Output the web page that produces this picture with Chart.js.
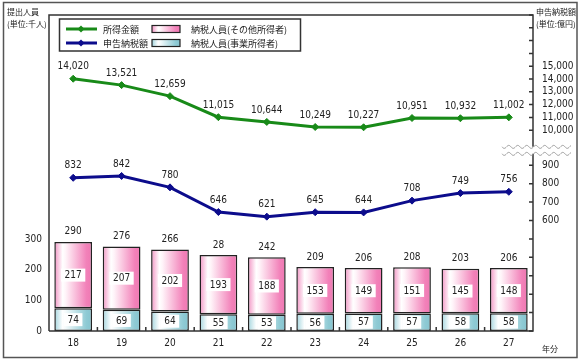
<!DOCTYPE html>
<html><head><meta charset="utf-8">
<script src="https://cdn.jsdelivr.net/npm/chart.js@4/dist/chart.umd.min.js"></script>
<style>html,body{margin:0;padding:0;background:#fff;overflow:hidden}</style>
</head><body>
<canvas id="c" width="581" height="363"></canvas>
<script>
// ---- data ----
const years = ['18','19','20','21','22','23','24','25','26','27'];
const incomeAmount = [14020,13521,12659,11015,10644,10249,10227,10951,10932,11002];   // 所得金額 (億円)
const taxAmount = [832,842,780,646,621,645,644,708,749,756];                           // 申告納税額 (億円)
const businessPeople = [74,69,64,55,53,56,57,57,58,58];                                // 納税人員(事業所得者) (千人)
const otherPeople = [217,207,202,193,188,153,149,151,145,148];                         // 納税人員(その他所得者) (千人)
const totalLabels = ['290','276','266','28','242','209','206','208','203','206'];       // 合計ラベル (as printed)
const peopleTicks = [0,100,200,300];
const peopleLabels = [0,100,200,300];
const incomeTicks = [10000,11000,12000,13000,14000,15000,16000,17000,18000,19000];
const incomeLabels = [10000,11000,12000,13000,14000,15000];
const taxTicks = [0,100,200,300,400,500,600,700,800,900];
const taxLabels = [600,700,800,900];

const NUM_FONT = "'Liberation Sans Narrow','Arial Narrow','DejaVu Sans Condensed','Liberation Sans',sans-serif";
const JP_FONT = "'Noto Sans CJK JP',sans-serif";
const GREEN = '#188a18';
const NAVY = '#0c0c8c';
const TEXT = '#222';
const BAR_PCT = 0.78;
const PINK_STOPS = [[0,'#f293c3'],[0.22,'#ffffff'],[0.3,'#fff4f9'],[0.85,'#f281b9'],[1,'#ef78b2']];
const BLUE_STOPS = [[0,'#a3d5de'],[0.22,'#ffffff'],[0.3,'#f3fafb'],[0.85,'#8ecad4'],[1,'#86c4cf']];

function makeGrad(ctx, x0, x1, stops){
  const g = ctx.createLinearGradient(x0,0,x1,0);
  stops.forEach(s=>g.addColorStop(s[0],s[1]));
  return g;
}
function barGradient(stops){
  return function(c){
    const chart = c.chart, xs = chart.scales && chart.scales.x;
    if(!xs || !chart.chartArea || c.dataIndex === undefined) return stops[stops.length-1][1];
    const cx = xs.getPixelForValue(c.dataIndex);
    const w = (xs.width/years.length)*BAR_PCT;
    return makeGrad(chart.ctx, cx-w/2, cx+w/2, stops);
  };
}
const fmt = v => v.toLocaleString('en-US');

const decor = {
  id:'decor',
  afterDraw(chart){
    const ctx = chart.ctx, a = chart.chartArea;
    const xs = chart.scales.x, yInc = chart.scales.yInc, yTax = chart.scales.yTax;
    ctx.save();
    // outer frame
    ctx.strokeStyle = '#555'; ctx.lineWidth = 1.5;
    ctx.strokeRect(3.5, 2.5, 573.5, 355);

    // plot frame with axis break
    const bMid = (yInc.bottom + yTax.top)/2;
    const bTop = bMid - 3.5, bBot = bMid + 3.5;
    ctx.strokeStyle = '#333'; ctx.lineWidth = 1.5;
    ctx.beginPath();
    ctx.moveTo(a.left, a.bottom); ctx.lineTo(a.left, a.top); ctx.lineTo(a.right, a.top); ctx.lineTo(a.right, bTop);
    ctx.moveTo(a.right, bBot); ctx.lineTo(a.right, a.bottom); ctx.lineTo(a.left, a.bottom);
    ctx.stroke();

    // inward tick marks on right axis
    ctx.beginPath();
    yInc.ticks.forEach(t=>{const y=yInc.getPixelForValue(t.value); ctx.moveTo(a.right-4,y); ctx.lineTo(a.right,y);});
    yTax.ticks.forEach(t=>{const y=yTax.getPixelForValue(t.value); ctx.moveTo(a.right-4,y); ctx.lineTo(a.right,y);});
    // inward tick marks on x axis between categories
    const cw = xs.width/years.length;
    for(let i=1;i<years.length;i++){ const x = a.left + i*cw; ctx.moveTo(x,a.bottom-4); ctx.lineTo(x,a.bottom); }
    ctx.stroke();

    // break waves
    ctx.strokeStyle = '#999'; ctx.lineWidth = 1;
    [bTop, bBot].forEach(y0=>{
      ctx.beginPath();
      for(let x=502;x<=571;x+=0.5){
        const yy = y0 + 1.5*Math.sin((x-502)/9*2*Math.PI);
        if(x===502) ctx.moveTo(x,yy); else ctx.lineTo(x,yy);
      }
      ctx.stroke();
    });

    // line value labels
    ctx.font = `10px ${NUM_FONT}`; ctx.fillStyle = TEXT; ctx.textAlign = 'center'; ctx.textBaseline = 'middle';
    chart.data.datasets.forEach((ds,i)=>{
      if(ds.type !== 'line') return;
      chart.getDatasetMeta(i).data.forEach((el,j)=>{
        ctx.fillText(fmt(ds.data[j]), el.x, el.y-12);
      });
    });
    // bar value labels
    chart.data.datasets.forEach((ds,i)=>{
      if(ds.type === 'line') return;
      chart.getDatasetMeta(i).data.forEach((el,j)=>{
        const cy = (el.y + el.base)/2, txt = String(ds.data[j]);
        const w = ctx.measureText(txt).width + 7;
        ctx.fillStyle = '#fff'; ctx.fillRect(el.x - w/2, cy - 6.5, w, 13);
        ctx.fillStyle = TEXT; ctx.fillText(txt, el.x, cy+0.5);
      });
    });
    // totals above stacked bars
    chart.getDatasetMeta(3).data.forEach((el,j)=>{ ctx.fillText(totalLabels[j], el.x, el.y-10); });

    // axis titles
    ctx.textAlign = 'left'; ctx.font = `8px ${JP_FONT}`; ctx.fillStyle = TEXT;
    ctx.fillText('提出人員', 7, 12);
    ctx.fillText('(単位:千人)', 7, 24);
    ctx.fillText('申告納税額', 536, 12);
    ctx.fillText('(単位:億円)', 536, 24);
    ctx.fillText('年分', 542, 349);

    // legend
    ctx.fillStyle = '#fff'; ctx.fillRect(59.5, 19, 241, 32);
    ctx.strokeStyle = '#333'; ctx.lineWidth = 1.5; ctx.strokeRect(59.5, 19, 241, 32);
    const ds = chart.data.datasets;
    const rows = [[0,3,29],[1,2,43]];
    ctx.font = `9px ${JP_FONT}`; ctx.textBaseline = 'middle';
    rows.forEach(([li,bi,y])=>{
      const L = ds[li];
      ctx.strokeStyle = L.borderColor; ctx.lineWidth = 3;
      ctx.beginPath(); ctx.moveTo(66,y); ctx.lineTo(97,y); ctx.stroke();
      ctx.fillStyle = L.borderColor;
      ctx.beginPath(); ctx.moveTo(81,y-3.5); ctx.lineTo(84.5,y); ctx.lineTo(81,y+3.5); ctx.lineTo(77.5,y); ctx.closePath(); ctx.fill();
      ctx.fillStyle = TEXT; ctx.fillText(L.label, 103, y+0.5);
      const B = ds[bi];
      ctx.fillStyle = makeGrad(ctx, 152, 180, bi===3 ? PINK_STOPS : BLUE_STOPS);
      ctx.fillRect(152, y-3.5, 28, 7);
      ctx.strokeStyle = '#222'; ctx.lineWidth = 1.2; ctx.strokeRect(152, y-3.5, 28, 7);
      ctx.fillStyle = TEXT; ctx.fillText(B.label, 191, y+0.5);
    });
    ctx.restore();
  }
};

const numTicks = {font:{family:NUM_FONT,size:10}, color:TEXT, autoSkip:false};

new Chart(document.getElementById('c'), {
  type:'bar',
  data:{
    labels: years,
    datasets:[
      {type:'line', label:'所得金額', data: incomeAmount, yAxisID:'yInc', borderColor:GREEN, backgroundColor:GREEN,
       borderWidth:3, pointStyle:'rectRot', pointRadius:3.5, pointBorderWidth:1, tension:0, order:0, clip:false},
      {type:'line', label:'申告納税額', data: taxAmount, yAxisID:'yTax', borderColor:NAVY, backgroundColor:NAVY,
       borderWidth:3, pointStyle:'rectRot', pointRadius:3.5, pointBorderWidth:1, tension:0, order:0, clip:false},
      {label:'納税人員(事業所得者)', data: businessPeople, yAxisID:'yBar', stack:'p',
       backgroundColor: barGradient(BLUE_STOPS), borderColor:'#222', borderWidth:1.5, borderSkipped:false,
       categoryPercentage:1, barPercentage:BAR_PCT, order:1},
      {label:'納税人員(その他所得者)', data: otherPeople, yAxisID:'yBar', stack:'p',
       backgroundColor: barGradient(PINK_STOPS), borderColor:'#222', borderWidth:1.5, borderSkipped:false,
       categoryPercentage:1, barPercentage:BAR_PCT, order:1}
    ]
  },
  options:{
    responsive:false, animation:false, devicePixelRatio:1,
    layout:{padding:{left:0,right:0,top:10,bottom:0}},
    plugins:{legend:{display:false}, tooltip:{enabled:false}},
    scales:{
      x:{stacked:true, offset:true, grid:{display:false, drawTicks:false}, border:{display:false},
         ticks:{...numTicks, padding:6},
         afterFit(s){ s.height = 32; }},
      yBar:{position:'left', stacked:true, min:0, max:1032,
         grid:{display:false, drawTicks:false}, border:{display:false},
         ticks:{...numTicks, padding:7, callback:(v)=> peopleLabels.includes(v) ? fmt(v) : ''},
         afterBuildTicks(s){ s.ticks = peopleTicks.map(v=>({value:v})); },
         afterFit(s){ s.width = 49; }},
      yInc:{position:'right', stack:'right', stackWeight:137.5, min:8423, max:19000,
         grid:{display:false, drawTicks:false}, border:{display:false},
         ticks:{...numTicks, padding:9, callback:(v)=> incomeLabels.includes(v) ? fmt(v) : ''},
         afterBuildTicks(s){ s.ticks = incomeTicks.map(v=>({value:v})); },
         afterFit(s){ s.width = 48; }},
      yTax:{position:'right', stack:'right', stackWeight:183.5, min:0, max:981,
         grid:{display:false, drawTicks:false}, border:{display:false},
         ticks:{...numTicks, padding:9, callback:(v)=> taxLabels.includes(v) ? fmt(v) : ''},
         afterBuildTicks(s){ s.ticks = taxTicks.map(v=>({value:v})); },
         afterFit(s){ s.width = 48; }}
    }
  },
  plugins:[decor]
});
</script>
</body></html>
